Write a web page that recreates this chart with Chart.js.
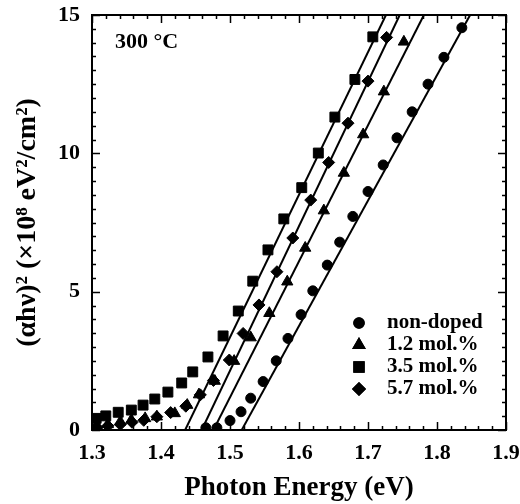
<!DOCTYPE html>
<html>
<head>
<meta charset="utf-8">
<script src="https://cdn.jsdelivr.net/npm/chart.js@4/dist/chart.umd.min.js"></script>
<style>
html,body{margin:0;padding:0;background:#fff;}
#wrap{width:520px;height:504px;}
</style>
</head>
<body>
<div id="wrap"><canvas id="c" width="520" height="504"></canvas></div>
<script>
// ---- data ----
const seriesLabels = ['non-doped', '1.2 mol.%', '3.5 mol.%', '5.7 mol.%'];

const xNonDoped = [1.465,1.481,1.500,1.516,1.530,1.548,1.567,1.584,1.603,1.620,1.641,1.659,1.678,1.700,1.722,1.742,1.764,1.787,1.810,1.836];
const yNonDoped = [0.08,0.08,0.34,0.66,1.15,1.75,2.50,3.31,4.17,5.03,5.96,6.79,7.72,8.62,9.58,10.56,11.50,12.50,13.47,14.54];

const x12 = [1.307,1.323,1.341,1.357,1.377,1.394,1.420,1.438,1.455,1.478,1.506,1.530,1.557,1.583,1.609,1.636,1.665,1.693,1.723,1.752];
const y12 = [0.15,0.20,0.30,0.36,0.42,0.48,0.60,0.90,1.28,1.77,2.49,3.34,4.22,5.36,6.58,7.93,9.29,10.68,12.23,14.03];

const x35 = [1.306,1.320,1.338,1.357,1.374,1.391,1.410,1.430,1.446,1.468,1.490,1.512,1.533,1.555,1.578,1.604,1.628,1.652,1.681,1.707];
const y35 = [0.42,0.51,0.64,0.72,0.90,1.12,1.37,1.70,2.10,2.64,3.40,4.30,5.38,6.51,7.63,8.76,10.01,11.31,12.67,14.21];

const x57 = [1.307,1.323,1.341,1.358,1.375,1.394,1.414,1.436,1.457,1.476,1.499,1.519,1.542,1.568,1.591,1.617,1.643,1.671,1.700,1.727];
const y57 = [0.10,0.15,0.20,0.28,0.35,0.48,0.63,0.86,1.27,1.79,2.53,3.49,4.52,5.72,6.94,8.31,9.67,11.09,12.61,14.19];

// linear fits (x at y=0 and at y=15)
const fitX = { nonDoped: [1.517, 1.848], m12: [1.476, 1.781], m35: [1.435, 1.726], m57: [1.459, 1.746] };
const fitY = [0, 15];

const xTickValues = [1.3, 1.4, 1.5, 1.6, 1.7, 1.8, 1.9];
const yTickValues = [0, 5, 10, 15];
const annotationText = '300 °C';

// ---- build datasets ----
function pts(xs, ys) { return xs.map((x, i) => ({ x: x, y: ys[i] })); }
function fitLine(xs) { return pts(xs, fitY); }

const lineDs = (d) => ({ data: d, showLine: true, borderColor: '#000', borderWidth: 2, pointRadius: 0, fill: false, isFit: true, order: 2 });
const markDs = (label, d, style, r) => ({ label: label, data: d, showLine: false, pointStyle: style, pointRadius: r, pointHoverRadius: r,
  backgroundColor: '#000', borderColor: '#000', borderWidth: 1, order: 1 });

const datasets = [
  lineDs(fitLine(fitX.nonDoped)),
  lineDs(fitLine(fitX.m12)),
  lineDs(fitLine(fitX.m35)),
  lineDs(fitLine(fitX.m57)),
  markDs(seriesLabels[0], pts(xNonDoped, yNonDoped), 'circle', 5),
  markDs(seriesLabels[1], pts(x12, y12), 'triangle', 6.5),
  markDs(seriesLabels[2], pts(x35, y35), 'rect', 7),
  markDs(seriesLabels[3], pts(x57, y57), 'rectRot', 6)
];

const FONT = "'Liberation Serif', 'Times New Roman', serif";

const framePlugin = {
  id: 'frame',
  afterDraw(chart) {
    const { ctx, chartArea: a, scales } = chart;
    const xs = scales.x, ys = scales.y;
    ctx.save();
    ctx.strokeStyle = '#000';
    ctx.lineWidth = 2;
    ctx.strokeRect(a.left, a.top, a.right - a.left, a.bottom - a.top);
    ctx.lineWidth = 1.5;
    ctx.beginPath();
    for (let i = 0; i <= 30; i++) {
      const v = 1.3 + i * 0.02;
      const p = Math.round(xs.getPixelForValue(v)) + 0.5;
      const len = (i % 5 === 0) ? 8 : 4;
      ctx.moveTo(p, a.bottom); ctx.lineTo(p, a.bottom - len);
      ctx.moveTo(p, a.top); ctx.lineTo(p, a.top + len);
    }
    for (let i = 0; i <= 30; i++) {
      const v = i * 0.5;
      const p = Math.round(ys.getPixelForValue(v)) + 0.5;
      const len = (i % 10 === 0) ? 8 : 4;
      ctx.moveTo(a.left, p); ctx.lineTo(a.left + len, p);
      ctx.moveTo(a.right, p); ctx.lineTo(a.right - len, p);
    }
    ctx.stroke();

    ctx.fillStyle = '#000';
    ctx.font = 'bold 22px ' + FONT;
    ctx.textBaseline = 'middle';
    ctx.textAlign = 'left';
    ctx.fillText(annotationText, a.left + 23, a.top + 27);

    const markers = chart.data.datasets.filter(d => !d.isFit);
    const mx = a.left + 267, tx = a.left + 295;
    const y0 = a.top + 308;
    ctx.font = 'bold 21px ' + FONT;
    markers.forEach((d, i) => {
      const y = y0 + i * 22;
      Chart.helpers.drawPoint(ctx, { pointStyle: d.pointStyle, radius: d.pointRadius, borderWidth: 1 }, mx, y);
      ctx.fill(); ctx.stroke();
      ctx.fillText(d.label, tx, y);
    });
    ctx.restore();
  }
};

new Chart(document.getElementById('c'), {
  type: 'scatter',
  data: { datasets: datasets },
  options: {
    responsive: false,
    animation: false,
    events: [],
    layout: { padding: { top: 15, right: 14, left: 0, bottom: 0 } },
    plugins: { legend: { display: false }, tooltip: { enabled: false } },
    scales: {
      x: {
        type: 'linear', min: 1.3, max: 1.9,
        afterFit(s) { s.height = 74; s.paddingLeft = 0; s.paddingRight = 0; },
        afterBuildTicks(s) { s.ticks = xTickValues.map(v => ({ value: v })); },
        grid: { display: false, drawTicks: false },
        border: { display: false },
        ticks: { padding: 10, color: '#000', font: { family: FONT, weight: 'bold', size: 22 }, callback: v => Number(v).toFixed(1) },
        title: { display: true, text: 'Photon Energy (eV)', color: '#000', padding: { top: 0, bottom: 0 }, font: { family: FONT, weight: 'bold', size: 27 } }
      },
      y: {
        type: 'linear', min: 0, max: 15,
        afterFit(s) { s.width = 92; s.paddingTop = 0; s.paddingBottom = 0; },
        afterBuildTicks(s) { s.ticks = yTickValues.map(v => ({ value: v })); },
        grid: { display: false, drawTicks: false },
        border: { display: false },
        ticks: { padding: 12, color: '#000', font: { family: FONT, weight: 'bold', size: 22 }, callback: v => String(v) },
        title: { display: true, text: '(αhν)² (×10⁸ eV²/cm²)', color: '#000', padding: { top: 11, bottom: 0 }, font: { family: FONT, weight: 'bold', size: 28 } }
      }
    }
  },
  plugins: [framePlugin]
});
</script>
</body>
</html>
